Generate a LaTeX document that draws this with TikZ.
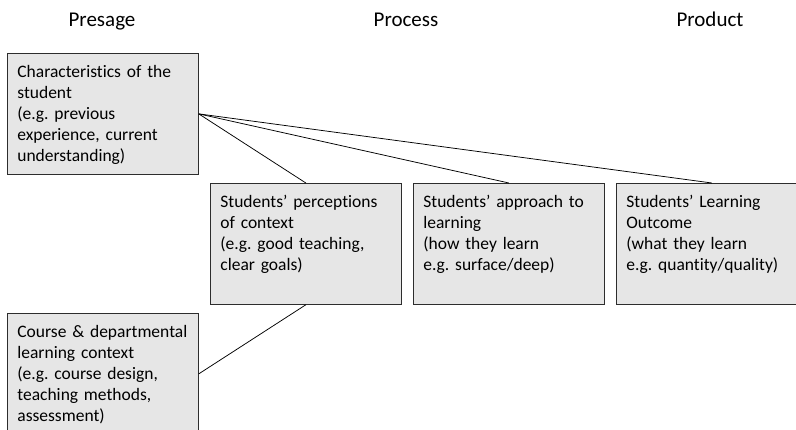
\documentclass[tikz,border=0pt]{standalone}
\usepackage{fontspec}
\setmainfont{Carlito}[Ligatures=NoCommon]
\definecolor{boxfill}{RGB}{230,230,230}
\definecolor{boxline}{RGB}{45,45,45}
\frenchspacing

\begin{document}
\begin{tikzpicture}[x=1pt,y=1pt,
	stage/.style={draw=boxline, fill=boxfill, line width=0.75pt, anchor=north west, align=left,
		text width=171pt, inner xsep=10pt, inner ysep=0pt, text height=24pt, text depth=97pt,
		font=\fontsize{17.5}{21}\selectfont},
	head/.style={anchor=base, font=\fontsize{21}{24}\selectfont}]
		\clip (0,0) rectangle (796,-430);
		% column titles
		\node[head] (presage) at (102,-27) {Presage};
		\node[head] (process) at (406,-27) {Process};
		\node[head] (product) at (710,-27) {Product};
		% boxes
		\node[stage] (student) at (7,-53) {Characteristics of the\\student\\(e.g. previous\\experience, current\\understanding)};
		\node[stage] (course) at (7,-313) {Course \& departmental\\learning context\\(e.g. course design,\\teaching methods,\\assessment)};
		\node[stage] (percept) at (210,-183) {Students’ perceptions\\of context\\(e.g. good teaching,\\clear goals)};
		\node[stage] (approach) at (413,-183) {Students’ approach to\\learning\\(how they learn\\e.g. surface/deep)};
		\node[stage] (outcome) at (616,-183) {Students’ Learning\\Outcome\\(what they learn\\e.g. quantity/quality)};
		% links
		\draw[line width=0.75pt] (student.east) -- (percept.north);
		\draw[line width=0.75pt] (student.east) -- (approach.north);
		\draw[line width=0.75pt] (student.east) -- (outcome.north);
		\draw[line width=0.75pt] (course.east) -- (percept.south);
	\end{tikzpicture}
\end{document}
